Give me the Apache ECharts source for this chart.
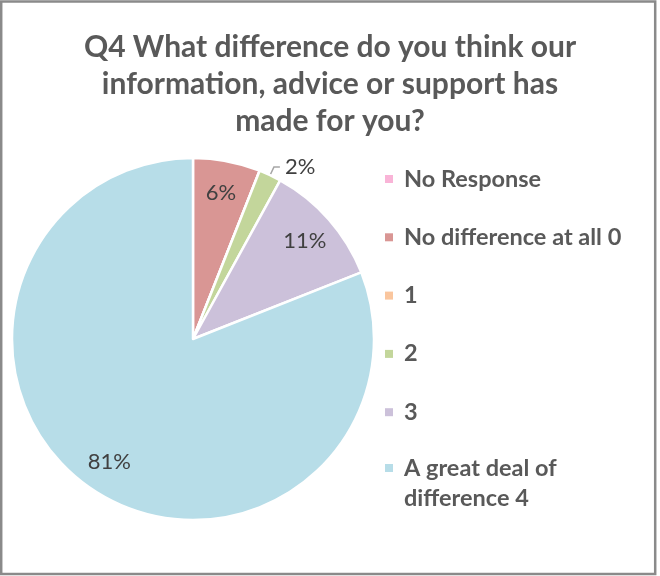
<!DOCTYPE html>
<html>
<head>
<meta charset="utf-8">
<script src="https://cdn.jsdelivr.net/npm/echarts@6/dist/echarts.min.js"></script>
<style>
  html, body { margin: 0; padding: 0; background: #fff; }
  #chart { width: 660px; height: 576px; }
</style>
</head>
<body>
<div id="chart"></div>
<script>
// Survey responses to Q4, share of respondents per answer
const categories = ['No Response', 'No difference at all 0', '1', '2', '3', 'A great deal of difference 4'];
const values = [0, 6, 0, 2, 11, 81];
const colors = ['#F9B4D7', '#D99694', '#FAC69E', '#C3D69B', '#CCC1DA', '#B7DDE8'];
const titleText = 'Q4 What difference do you think our\ninformation, advice or support has\nmade for you?';

const FONT = 'Lato';
const center = [193, 339];
const R = 181;
const LEG_LH = 30;

const sliceData = categories.map((name, i) => ({
  name, value: values[i], itemStyle: { color: colors[i] }
}));

// label-only ring: labels sit at the middle of [r0, R]
const labelData = categories.map((name, i) => {
  const d = { name, value: values[i] };
  if (values[i] === 0) d.label = { show: false };
  if (name === '2') {
    d.label = { position: 'outside', color: '#404040' };
    d.labelLine = { show: true, length: 9, length2: 6, lineStyle: { color: '#A6A6A6', width: 1.5 } };
  }
  return d;
});

const legendText = {
  fontFamily: FONT, fontSize: 23.5, fontWeight: 'bold', color: '#595959',
  lineHeight: LEG_LH, padding: [0, 0, 0, 6]
};

const chart = echarts.init(document.getElementById('chart'), null, { renderer: 'canvas' });
chart.setOption({
  animation: false,
  color: colors,
  title: {
    text: titleText,
    left: 'center',
    top: 24,
    textStyle: { fontFamily: FONT, fontSize: 30, fontWeight: 'bold', color: '#595959', lineHeight: 37 }
  },
  legend: [
    {
      orient: 'vertical',
      left: 385,
      top: 164,
      padding: 0,
      itemWidth: 8,
      itemHeight: 8,
      itemGap: 28.3,
      icon: 'rect',
      itemStyle: { borderWidth: 0 },
      data: categories.slice(0, 5),
      textStyle: legendText
    },
    {
      // two-line entry: the square is aligned with the first line
      orient: 'vertical',
      left: 385,
      top: 453,
      padding: 0,
      itemWidth: 8,
      itemHeight: LEG_LH + 8,
      icon: 'path://M0,0H8V8H0Z M0,37.9H0.1V38H0Z',
      itemStyle: { borderWidth: 0 },
      data: categories.slice(5),
      formatter: name => name.replace('deal of ', 'deal of\n'),
      textStyle: legendText
    }
  ],
  graphic: [{
    type: 'rect',
    shape: { x: 1.2, y: 1.5, width: 654, height: 572.5 },
    style: { fill: 'none', stroke: '#8A8A8A', lineWidth: 2.5 },
    silent: true
  }],
  series: [
    {
      type: 'pie',
      center: center,
      radius: [0, R],
      startAngle: 90,
      clockwise: true,
      label: { show: false },
      labelLine: { show: false },
      itemStyle: { borderColor: '#ffffff', borderWidth: 2.5 },
      data: sliceData
    },
    {
      type: 'pie',
      center: center,
      radius: [111, R],
      startAngle: 90,
      clockwise: true,
      silent: true,
      legendHoverLink: false,
      itemStyle: { color: 'rgba(0,0,0,0)', borderWidth: 0 },
      label: {
        show: true,
        position: 'inner',
        fontFamily: FONT,
        fontSize: 22,
        color: '#404040',
        formatter: p => Math.round(p.percent) + '%'
      },
      labelLine: { show: false },
      data: labelData
    }
  ]
});
</script>
</body>
</html>
